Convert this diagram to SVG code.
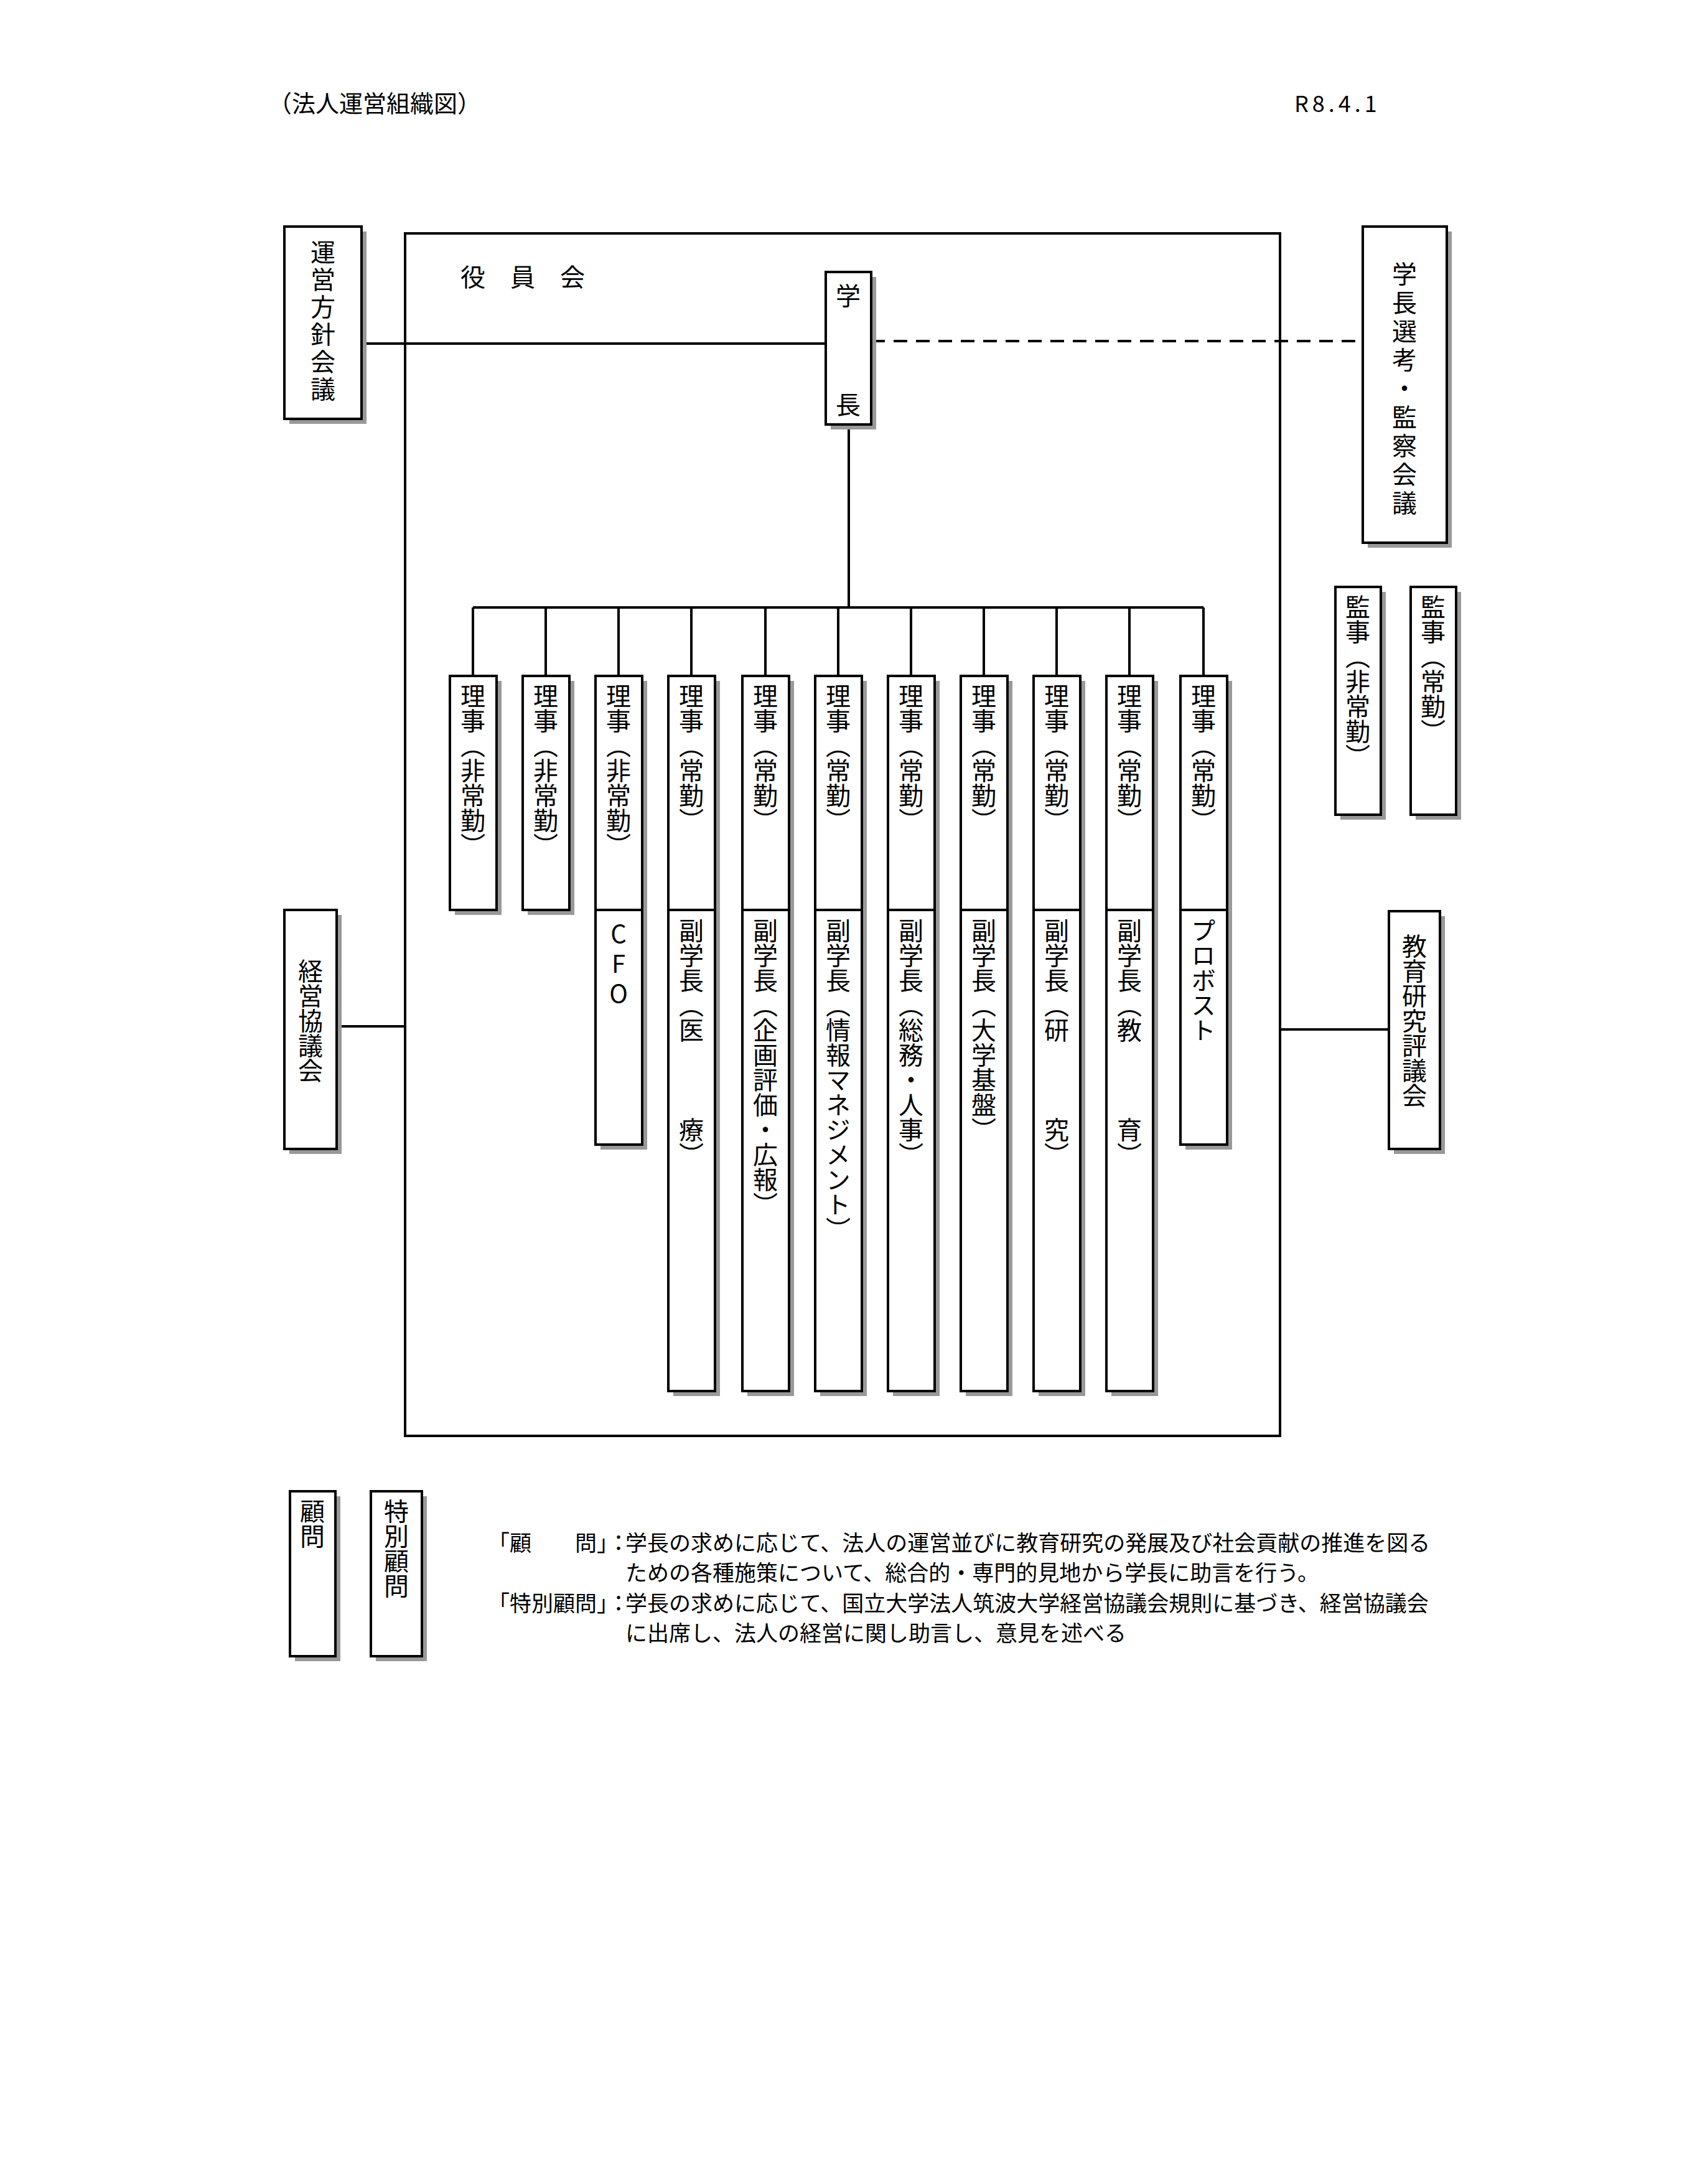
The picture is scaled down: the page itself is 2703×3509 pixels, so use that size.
<svg xmlns="http://www.w3.org/2000/svg" width="2703" height="3509" viewBox="0 0 2703 3509">
<style>
text{font-family:"Noto Sans CJK JP","Liberation Sans",sans-serif;fill:#000}
.b{fill:#fff;stroke:#000;stroke-width:4}
.s{fill:#999}
.v{writing-mode:vertical-rl;font-size:40px}
.c{stroke:#000;stroke-width:4;fill:none}
.n{font-size:35px}
</style>
<rect width="2703" height="3509" fill="#fff"/>
<text x="431" y="180" font-size="38">（法人運営組織図）</text>
<text x="2080" y="180" font-size="36" letter-spacing="6" font-family="Liberation Mono,monospace">R8.4.1</text>
<g id="frame"><rect x="651" y="375" width="1406" height="1932" class="b"/>
<text x="740" y="460" font-size="40" letter-spacing="40">役員会</text></g>
<g id="connectors">
<line x1="581" y1="552" x2="1327" y2="552" class="c"/>
<line x1="1400" y1="548" x2="2190" y2="548" class="c" stroke-dasharray="22,14"/>
<line x1="1364" y1="682" x2="1364" y2="976" class="c"/>
<line x1="760" y1="976" x2="1934" y2="976" class="c"/>
<path class="c" d="M760 976V1086M877 976V1086M994 976V1086M1111 976V1086M1230 976V1086M1347 976V1086M1464 976V1086M1581 976V1086M1698 976V1086M1815 976V1086M1934 976V1086"/>
<line x1="541" y1="1649" x2="651" y2="1649" class="c"/>
<line x1="2057" y1="1654" x2="2232" y2="1654" class="c"/>
</g>
<g id="unei"><rect x="465" y="372" width="124" height="309" class="s"/><rect x="457" y="364" width="124" height="309" class="b"/><text x="519" y="385" class="v" letter-spacing="4">運営方針会議</text></g>
<g id="gakucho"><rect x="1335" y="445" width="73" height="245" class="s"/><rect x="1327" y="437" width="73" height="245" class="b"/><text x="1363" y="490" font-size="40" text-anchor="middle">学</text><text x="1363" y="665" font-size="40" text-anchor="middle">長</text></g>
<g id="senko"><rect x="2198" y="372" width="135" height="508" class="s"/><rect x="2190" y="364" width="135" height="508" class="b"/><text x="2257" y="420" class="v" letter-spacing="6">学長選考・監察会議</text></g>
<g id="kanji1"><rect x="2154" y="951" width="73" height="366" class="s"/><rect x="2146" y="943" width="73" height="366" class="b"/><text x="2182" y="955" class="v">監事（非常勤）</text></g>
<g id="kanji2"><rect x="2275" y="951" width="73" height="366" class="s"/><rect x="2267" y="943" width="73" height="366" class="b"/><text x="2303" y="955" class="v">監事（常勤）</text></g>
<g id="keiei"><rect x="465" y="1470" width="84" height="384" class="s"/><rect x="457" y="1462" width="84" height="384" class="b"/><text x="499" y="1540" class="v">経営協議会</text></g>
<g id="kyoiku"><rect x="2240" y="1472" width="82" height="382" class="s"/><rect x="2232" y="1464" width="82" height="382" class="b"/><text x="2273" y="1500" class="v">教育研究評議会</text></g>
<g id="r1"><rect x="731" y="1094" width="75" height="376" class="s"/><rect x="723" y="1086" width="75" height="376" class="b"/><text x="760" y="1098" class="v">理事（非常勤）</text></g>
<g id="r2"><rect x="848" y="1094" width="75" height="376" class="s"/><rect x="840" y="1086" width="75" height="376" class="b"/><text x="877" y="1098" class="v">理事（非常勤）</text></g>
<g id="r3"><rect x="965" y="1094" width="75" height="753" class="s"/><rect x="957" y="1086" width="75" height="376" class="b"/><rect x="957" y="1462" width="75" height="377" class="b"/><text x="994" y="1098" class="v">理事（非常勤）</text><text x="994" y="1480" class="v" style="text-orientation:upright" font-family="Liberation Sans,sans-serif" letter-spacing="8">CFO</text></g>
<g id="r4"><rect x="1082" y="1094" width="75" height="1149" class="s"/><rect x="1074" y="1086" width="75" height="376" class="b"/><rect x="1074" y="1462" width="75" height="773" class="b"/><text x="1111" y="1098" class="v">理事（常勤）</text><text x="1111" y="1475" class="v">副学長（医　　　療）</text></g>
<g id="r5"><rect x="1201" y="1094" width="75" height="1149" class="s"/><rect x="1193" y="1086" width="75" height="376" class="b"/><rect x="1193" y="1462" width="75" height="773" class="b"/><text x="1230" y="1098" class="v">理事（常勤）</text><text x="1230" y="1475" class="v">副学長（企画評価・広報）</text></g>
<g id="r6"><rect x="1318" y="1094" width="75" height="1149" class="s"/><rect x="1310" y="1086" width="75" height="376" class="b"/><rect x="1310" y="1462" width="75" height="773" class="b"/><text x="1347" y="1098" class="v">理事（常勤）</text><text x="1347" y="1475" class="v">副学長（情報マネジメント）</text></g>
<g id="r7"><rect x="1435" y="1094" width="75" height="1149" class="s"/><rect x="1427" y="1086" width="75" height="376" class="b"/><rect x="1427" y="1462" width="75" height="773" class="b"/><text x="1464" y="1098" class="v">理事（常勤）</text><text x="1464" y="1475" class="v">副学長（総務・人事）</text></g>
<g id="r8"><rect x="1552" y="1094" width="75" height="1149" class="s"/><rect x="1544" y="1086" width="75" height="376" class="b"/><rect x="1544" y="1462" width="75" height="773" class="b"/><text x="1581" y="1098" class="v">理事（常勤）</text><text x="1581" y="1475" class="v">副学長（大学基盤）</text></g>
<g id="r9"><rect x="1669" y="1094" width="75" height="1149" class="s"/><rect x="1661" y="1086" width="75" height="376" class="b"/><rect x="1661" y="1462" width="75" height="773" class="b"/><text x="1698" y="1098" class="v">理事（常勤）</text><text x="1698" y="1475" class="v">副学長（研　　　究）</text></g>
<g id="r10"><rect x="1786" y="1094" width="75" height="1149" class="s"/><rect x="1778" y="1086" width="75" height="376" class="b"/><rect x="1778" y="1462" width="75" height="773" class="b"/><text x="1815" y="1098" class="v">理事（常勤）</text><text x="1815" y="1475" class="v">副学長（教　　　育）</text></g>
<g id="r11"><rect x="1905" y="1094" width="75" height="753" class="s"/><rect x="1897" y="1086" width="75" height="376" class="b"/><rect x="1897" y="1462" width="75" height="377" class="b"/><text x="1934" y="1098" class="v">理事（常勤）</text><text x="1934" y="1475" class="v">プロボスト</text></g>
<g id="komon"><rect x="474" y="2404" width="73" height="265" class="s"/><rect x="466" y="2396" width="73" height="265" class="b"/><text x="502" y="2408" class="v">顧問</text></g>
<g id="tokubetsu"><rect x="604" y="2404" width="82" height="265" class="s"/><rect x="596" y="2396" width="82" height="265" class="b"/><text x="637" y="2408" class="v">特別顧問</text></g>
<g id="notes" class="n">
<text x="784" y="2492" class="n">「顧　　問」：</text><text x="1005" y="2492" class="n">学長の求めに応じて、法人の運営並びに教育研究の発展及び社会貢献の推進を図る</text>
<text x="1005" y="2540" class="n">ための各種施策について、総合的・専門的見地から学長に助言を行う。</text>
<text x="784" y="2589" class="n">「特別顧問」：</text><text x="1005" y="2589" class="n">学長の求めに応じて、国立大学法人筑波大学経営協議会規則に基づき、経営協議会</text>
<text x="1005" y="2637" class="n">に出席し、法人の経営に関し助言し、意見を述べる</text>
</g>
</svg>
